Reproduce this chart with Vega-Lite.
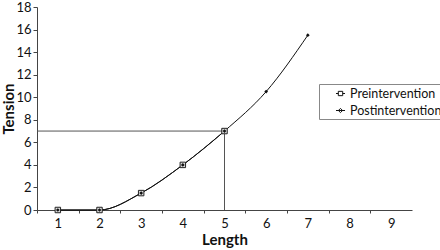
{
  "$schema": "https://vega.github.io/schema/vega-lite/v6.json",
  "width": 375,
  "height": 203,
  "autosize": {"type": "none"},
  "padding": {"left": 37, "top": 7, "right": 28, "bottom": 40},
  "background": "white",
  "config": {
    "font": "Lato",
    "view": {"stroke": null},
    "axis": {"labelFont": "Lato", "titleFont": "Lato", "labelColor": "#111", "titleColor": "#111", "domainColor": "#444", "tickColor": "#444", "grid": false, "labelOverlap": false}
  },
  "datasets": {
    "series": [
      {"Length": 1, "Tension": 0, "series": "Preintervention"},
      {"Length": 2, "Tension": 0, "series": "Preintervention"},
      {"Length": 3, "Tension": 1.5, "series": "Preintervention"},
      {"Length": 4, "Tension": 4, "series": "Preintervention"},
      {"Length": 5, "Tension": 7, "series": "Preintervention"},
      {"Length": 1, "Tension": 0, "series": "Postintervention"},
      {"Length": 2, "Tension": 0, "series": "Postintervention"},
      {"Length": 3, "Tension": 1.5, "series": "Postintervention"},
      {"Length": 4, "Tension": 4, "series": "Postintervention"},
      {"Length": 5, "Tension": 7, "series": "Postintervention"},
      {"Length": 6, "Tension": 10.5, "series": "Postintervention"},
      {"Length": 7, "Tension": 15.5, "series": "Postintervention"}
    ],
    "refs": [
      {"Length": 0.5, "Length2": 5, "Tension": 7, "Tension2": 7},
      {"Length": 5, "Length2": 5, "Tension": 0, "Tension2": 7}
    ]
  },
  "encoding": {
    "x": {"field": "Length", "type": "quantitative", "scale": {"domain": [0.5, 9.5], "nice": false, "zero": false},
      "axis": {"values": [1, 2, 3, 4, 5, 6, 7, 8, 9, 10], "tickOffset": -20.83, "labelOffset": 20.83, "labelExpr": "datum.value > 9 ? '' : datum.label", "tickSize": 3, "labelFontSize": 13, "labelPadding": 4, "title": "Length", "titleFontSize": 15, "titleFontWeight": "bold", "titlePadding": 2}},
    "y": {"field": "Tension", "type": "quantitative", "scale": {"domain": [0, 18], "nice": false},
      "axis": {"values": [0, 2, 4, 6, 8, 10, 12, 14, 16, 18], "tickSize": 4, "labelFontSize": 13, "labelPadding": 2, "title": "Tension", "titleFontSize": 15, "titleFontWeight": "bold", "titleX": -29, "titleBaseline": "middle"}}
  },
  "layer": [
    {
      "data": {"name": "refs"},
      "mark": {"type": "rule", "color": "#555", "strokeWidth": 1},
      "encoding": {
        "x2": {"field": "Length2"},
        "y2": {"field": "Tension2"}
      }
    },
    {
      "data": {"name": "series"},
      "mark": {"type": "line", "color": "#111", "strokeWidth": 1, "interpolate": "monotone"},
      "encoding": {
        "detail": {"field": "series"}
      }
    },
    {
      "data": {"name": "series"},
      "transform": [{"filter": "datum.series == 'Preintervention'"}],
      "mark": {"type": "point", "shape": "square", "size": 30, "filled": true, "fill": "#ddd", "stroke": "#222", "strokeWidth": 1, "opacity": 1},
      "encoding": {}
    },
    {
      "data": {"name": "series"},
      "transform": [{"filter": "datum.series == 'Postintervention'"}],
      "mark": {"type": "point", "shape": "diamond", "size": 14, "filled": true, "color": "#111", "opacity": 1},
      "encoding": {}
    },
    {
      "data": {"name": "series"},
      "transform": [{"filter": "false"}],
      "mark": {"type": "point", "filled": false, "stroke": "#111", "strokeWidth": 1, "opacity": 1},
      "encoding": {
        "shape": {"field": "series", "type": "nominal",
          "scale": {"domain": ["Preintervention", "Postintervention"],
            "range": ["M1.07,0H1.4M2.03,0H2.36M1.4,-0.31H2.03V0.31H1.4Z", "M1.07,0H2.36M1.71,-0.3L2.01,0L1.71,0.3L1.41,0Z"]},
          "legend": {"orient": "none", "legendX": 282, "legendY": 77, "title": null, "symbolSize": 196, "symbolStrokeWidth": 1, "symbolStrokeColor": "#111", "labelFontSize": 12.5, "labelFont": "Lato", "labelColor": "#111", "rowPadding": 3, "padding": 2, "strokeColor": "#888", "fillColor": "white", "labelOffset": 14}}
      }
    }
  ],
  "resolve": {"scale": {"shape": "independent"}}
}
